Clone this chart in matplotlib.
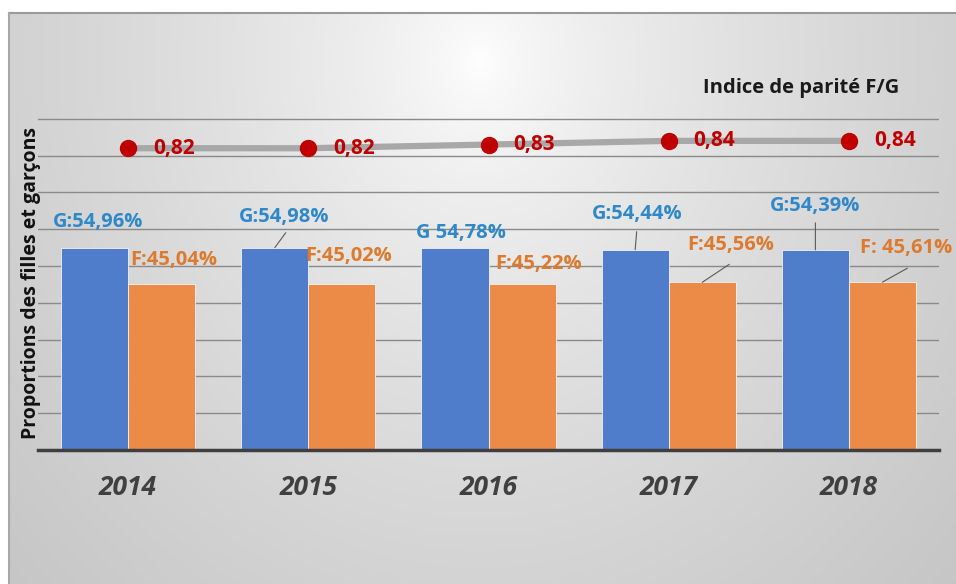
import matplotlib
matplotlib.use('Agg')
import matplotlib.pyplot as plt
import numpy as np

# ---------------- data ----------------
years = ['2014', '2015', '2016', '2017', '2018']
garcons = [54.96, 54.98, 54.78, 54.44, 54.39]
filles = [45.04, 45.02, 45.22, 45.56, 45.61]
indice = [0.82, 0.82, 0.83, 0.84, 0.84]
g_labels = ['G:54,96%', 'G:54,98%', 'G 54,78%', 'G:54,44%', 'G:54,39%']
f_labels = ['F:45,04%', 'F:45,02%', 'F:45,22%', 'F:45,56%', 'F: 45,61%']
indice_labels = ['0,82', '0,82', '0,83', '0,84', '0,84']
title_text = 'Indice de parité F/G'
ylabel_text = 'Proportions des filles et garçons'

# ---------------- style ----------------
FONT = 'Open Sans'
BLUE = '#4f7dcb'
ORANGE = '#ec8a47'
BLUE_TXT = '#2f88c9'
ORANGE_TXT = '#dd7a2e'
RED = '#c00000'
LINE_GREY = '#a8a8a8'
PX = 0.72  # points per pixel at dpi 100

W, H = 956, 584
fig = plt.figure(figsize=(W / 100, H / 100), dpi=100)

# background radial gradient panel
bg = fig.add_axes([9 / W, 0, (W - 9) / W, (H - 13) / H])
ny, nx = 300, 480
yy, xx = np.mgrid[0:ny, 0:nx]
px_x = 9 + xx / (nx - 1) * (W - 9)
px_y = 13 + yy / (ny - 1) * (H - 13)
dx = (px_x - 480) / 480
dy = (px_y - 60) / 560
d = np.sqrt(dx ** 2 + dy ** 2)
val = np.clip(255 - 46 * d ** 0.7, 0, 255) / 255
img = np.dstack([val, val, val])
bg.imshow(img, aspect='auto', extent=[0, 1, 0, 1], origin='upper')
bg.set_xlim(0, 1)
bg.set_ylim(0, 1)
bg.axis('off')
# frame border (top and left)
fig.add_artist(plt.Line2D([9 / W, 1], [1 - 13 / H, 1 - 13 / H], color='#9a9a9a', lw=1.5))
fig.add_artist(plt.Line2D([9 / W, 9 / W], [0, 1 - 13 / H], color='#a8a8a8', lw=1.5))

# main axes
ax = fig.add_axes([38 / W, 1 - 450 / H, 901 / W, 368 / H])
ax.set_facecolor('none')
x = np.arange(len(years))
bw = 0.372
ax.set_xlim(-0.5, len(years) - 0.5)
ax.set_ylim(0, 100)

for gy in range(10, 100, 10):
    ax.axhline(gy, color='#8a8a8a', lw=1.0, zorder=0)

ax.bar(x - bw / 2, garcons, width=bw, color=BLUE, edgecolor='#f2f2f2', linewidth=0.6, zorder=2)
ax.bar(x + bw / 2, filles, width=bw, color=ORANGE, edgecolor='#f2f2f2', linewidth=0.6, zorder=2)

ind_pct = [v * 100 for v in indice]
ax.plot(x, ind_pct, color=LINE_GREY, lw=4.5, zorder=3, solid_capstyle='butt')
ax.plot(x, ind_pct, ls='none', marker='o', ms=11.5, color=RED, zorder=4)

for xi, v, lab in zip(x, ind_pct, indice_labels):
    ax.annotate(lab, xy=(xi, v), xytext=(25 * PX, 0), textcoords='offset points',
                ha='left', va='center', color=RED, fontsize=15, fontweight='bold',
                family=FONT, zorder=5)

# bar labels (offsets in pixels from bar top centre)
g_off = [(3, 26), (9.5, 31), (6, 15), (2, 36), (0, 44)]
f_off = [(12, 24), (7, 28), (17, 20), (28, 37), (24, 34)]
g_lead = [None, (11, 15), None, (1.5, 18), (0, 27)]
f_lead = [None, None, None, (27, 18), (25, 14)]

for i in range(len(years)):
    xb = x[i] - bw / 2
    ax.annotate(g_labels[i], xy=(xb, garcons[i]), xytext=(g_off[i][0] * PX, g_off[i][1] * PX),
                textcoords='offset points', ha='center', va='center', color=BLUE_TXT,
                fontsize=14.5, fontweight='bold', family=FONT, zorder=5)
    if g_lead[i] is not None:
        ax.annotate('', xy=(xb, garcons[i]), xytext=(g_lead[i][0] * PX, g_lead[i][1] * PX),
                    textcoords='offset points',
                    arrowprops=dict(arrowstyle='-', color='#5a5a5a', lw=0.8, shrinkA=0, shrinkB=0),
                    zorder=5)
    xo = x[i] + bw / 2
    ax.annotate(f_labels[i], xy=(xo, filles[i]), xytext=(f_off[i][0] * PX, f_off[i][1] * PX),
                textcoords='offset points', ha='center', va='center', color=ORANGE_TXT,
                fontsize=14.5, fontweight='bold', family=FONT, zorder=5)
    if f_lead[i] is not None:
        ax.annotate('', xy=(xo, filles[i]), xytext=(f_lead[i][0] * PX, f_lead[i][1] * PX),
                    textcoords='offset points',
                    arrowprops=dict(arrowstyle='-', color='#5a5a5a', lw=0.8, shrinkA=0, shrinkB=0),
                    zorder=5)

# axes styling
for s in ['top', 'right', 'left']:
    ax.spines[s].set_visible(False)
ax.spines['bottom'].set_color('#3f3f3f')
ax.spines['bottom'].set_linewidth(2.5)
ax.set_yticks([])
ax.set_xticks(x)
ax.set_xticklabels(years, fontsize=19, fontweight='bold', fontstyle='italic',
                   color='#404040', family=FONT)
ax.tick_params(axis='x', length=0, pad=17)

fig.text(31 / W, 1 - 283 / H, ylabel_text, rotation=90, ha='center', va='center',
         fontsize=14, fontweight='bold', color='#111111', family=FONT)
fig.text(801 / W, 1 - 88 / H, title_text, ha='center', va='center',
         fontsize=14.5, fontweight='bold', color='#1a1a1a', family=FONT)

fig.savefig('out.png', dpi=100)
